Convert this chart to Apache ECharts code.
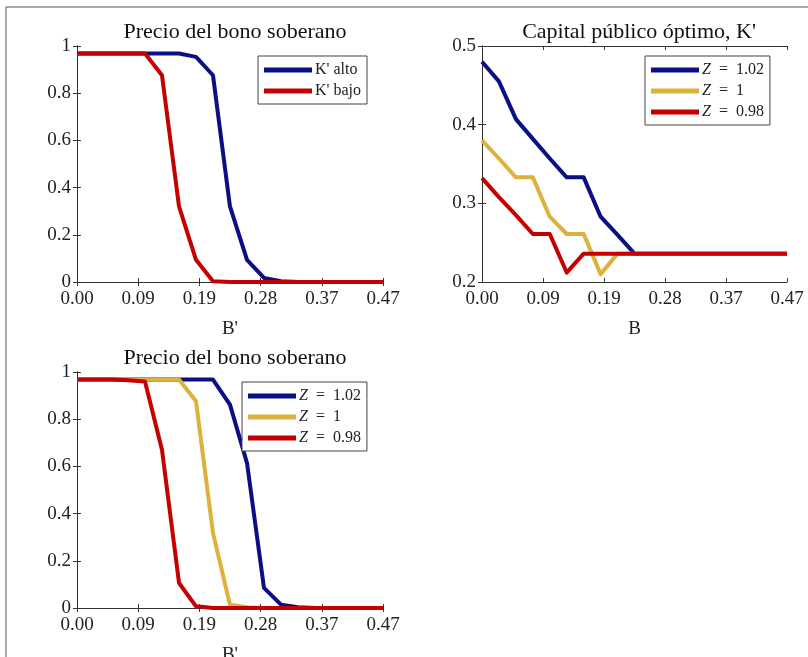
<!DOCTYPE html>
<html>
<head>
<meta charset="utf-8">
<script src="https://cdn.jsdelivr.net/npm/echarts@6/dist/echarts.min.js"></script>
<style>
  html, body { margin: 0; padding: 0; background: #fff; }
  #chart { width: 808px; height: 657px; }
</style>
</head>
<body>
<div id="chart"></div>
<script>
// grid de deuda B (19 puntos)
const bGrid = [0, 0.0259, 0.0519, 0.0778, 0.1037, 0.1296, 0.1556, 0.1815, 0.2074, 0.2333,
  0.2593, 0.2852, 0.3111, 0.3370, 0.3630, 0.3889, 0.4148, 0.4407, 0.4667];
const xTickLabels = ['0.00', '0.09', '0.19', '0.28', '0.37', '0.47'];

// panel 1: precio del bono, K' alto / bajo
const precioKAlto = [0.968, 0.968, 0.968, 0.968, 0.968, 0.968, 0.968, 0.954, 0.876, 0.32,
  0.094, 0.017, 0.003, 0, 0, 0, 0, 0, 0];
const precioKBajo = [0.968, 0.968, 0.968, 0.968, 0.968, 0.876, 0.32, 0.094, 0.003, 0,
  0, 0, 0, 0, 0, 0, 0, 0, 0];

// panel 2: capital publico optimo K'
const capZ102 = [0.48, 0.455, 0.407, 0.382, 0.357, 0.333, 0.333, 0.283, 0.26, 0.236,
  0.236, 0.236, 0.236, 0.236, 0.236, 0.236, 0.236, 0.236, 0.236];
const capZ100 = [0.38, 0.357, 0.333, 0.333, 0.283, 0.261, 0.261, 0.21, 0.236, 0.236,
  0.236, 0.236, 0.236, 0.236, 0.236, 0.236, 0.236, 0.236, 0.236];
const capZ098 = [0.332, 0.308, 0.285, 0.261, 0.261, 0.212, 0.236, 0.236, 0.236, 0.236,
  0.236, 0.236, 0.236, 0.236, 0.236, 0.236, 0.236, 0.236, 0.236];

// panel 3: precio del bono por Z
const precioZ102 = [0.968, 0.968, 0.968, 0.968, 0.968, 0.968, 0.968, 0.968, 0.968, 0.862,
  0.614, 0.085, 0.014, 0.003, 0, 0, 0, 0, 0];
const precioZ100 = [0.968, 0.968, 0.968, 0.968, 0.968, 0.968, 0.968, 0.876, 0.318, 0.014,
  0.003, 0, 0, 0, 0, 0, 0, 0, 0];
const precioZ098 = [0.968, 0.968, 0.968, 0.965, 0.96, 0.671, 0.106, 0.007, 0, 0,
  0, 0, 0, 0, 0, 0, 0, 0, 0];

const AZUL = '#0b0f86';
const AMARILLO = '#dcb13c';
const ROJO = '#c40000';
const serif = '"Liberation Serif", "DejaVu Serif", serif';
const xStep = 0.09334;

const pares = arr => bGrid.map((b, i) => [b, arr[i]]);

// outerBoundsMode none: que no achique el grid por las etiquetas
const grids = [
  { left: 77, top: 46, width: 306, height: 236, outerBoundsMode: 'none', containLabel: false },
  { left: 482, top: 46, width: 305, height: 236, outerBoundsMode: 'none', containLabel: false },
  { left: 77, top: 372, width: 306, height: 236, outerBoundsMode: 'none', containLabel: false }
];

function ejeX(gi, name, top) {
  return {
    type: 'value', gridIndex: gi, min: 0, max: 0.4667, interval: xStep,
    position: top ? 'top' : 'bottom',
    name: top ? '' : name, nameLocation: 'middle', nameGap: 38,
    nameTextStyle: { fontFamily: serif, fontSize: 19, color: '#222' },
    axisLine: { show: true, lineStyle: { color: '#333', width: 1 } },
    axisTick: { show: true, inside: true, length: 4, lineStyle: { color: '#333' } },
    axisLabel: {
      show: !top, margin: 8, fontFamily: serif, fontSize: 19, color: '#222',
      formatter: v => xTickLabels[Math.round(v / xStep)]
    },
    splitLine: { show: false }
  };
}

function ejeY(gi, min, max, right) {
  return {
    type: 'value', gridIndex: gi, min: min, max: max, interval: max - min > 0.5 ? 0.2 : 0.1,
    position: right ? 'right' : 'left',
    axisLine: { show: true, lineStyle: { color: '#333', width: 1 } },
    axisTick: { show: true, inside: true, length: 4, lineStyle: { color: '#333' } },
    axisLabel: { show: !right, margin: 6, fontFamily: serif, fontSize: 19, color: '#222' },
    splitLine: { show: false }
  };
}

function linea(name, data, color, gi) {
  return {
    name: name, type: 'line', xAxisIndex: gi * 2, yAxisIndex: gi * 2,
    data: pares(data), showSymbol: false, symbol: 'none',
    lineStyle: { color: color, width: 4, join: 'round' }, itemStyle: { color: color },
    animation: false
  };
}

function leyenda(names, left, top, rich) {
  return {
    data: names, orient: 'vertical', left: left, top: top, align: 'left',
    icon: 'rect', itemWidth: 48, itemHeight: 5, itemGap: 5,
    padding: [6, 6, 5, 6], borderColor: '#444', borderWidth: 1, borderRadius: 0,
    backgroundColor: '#fff',
    textStyle: {
      fontFamily: serif, fontSize: 16, color: '#222', padding: [0, 0, 0, -2],
      rich: { i: { fontFamily: serif, fontSize: 16, fontStyle: 'italic', color: '#222' } }
    },
    formatter: rich ? (n => n.trim().replace(' = ', '\u2002=\u2002').replace('Z', '{i|Z}')) : null,
    selectedMode: false
  };
}

const titulo = (text, left, top) => ({
  text: text, left: left, top: top, textAlign: 'center',
  textStyle: { fontFamily: serif, fontSize: 22, fontWeight: 'normal', color: '#111' }
});

const option = {
  backgroundColor: '#fff',
  animation: false,
  title: [
    titulo('Precio del bono soberano', 230, 16),
    titulo('Capital público óptimo, K\'', 634, 16),
    titulo('Precio del bono soberano', 230, 342)
  ],
  grid: grids,
  xAxis: [
    ejeX(0, "B'", false), ejeX(0, '', true),
    ejeX(1, 'B', false), ejeX(1, '', true),
    ejeX(2, "B'", false), ejeX(2, '', true)
  ],
  yAxis: [
    ejeY(0, 0, 1, false), ejeY(0, 0, 1, true),
    ejeY(1, 0.2, 0.5, false), ejeY(1, 0.2, 0.5, true),
    ejeY(2, 0, 1, false), ejeY(2, 0, 1, true)
  ],
  legend: [
    leyenda(["K' alto", "K' bajo"], 258, 56, false),
    leyenda(['Z = 1.02', 'Z = 1', 'Z = 0.98'], 645, 56, true),
    leyenda(['Z = 1.02 ', 'Z = 1 ', 'Z = 0.98 '], 242, 382, true)
  ],
  series: [
    linea("K' alto", precioKAlto, AZUL, 0),
    linea("K' bajo", precioKBajo, ROJO, 0),
    linea('Z = 1.02', capZ102, AZUL, 1),
    linea('Z = 1', capZ100, AMARILLO, 1),
    linea('Z = 0.98', capZ098, ROJO, 1),
    linea('Z = 1.02 ', precioZ102, AZUL, 2),
    linea('Z = 1 ', precioZ100, AMARILLO, 2),
    linea('Z = 0.98 ', precioZ098, ROJO, 2)
  ],
  graphic: [
    { type: 'line', shape: { x1: 6, y1: 7, x2: 808, y2: 7 }, style: { stroke: '#555', lineWidth: 1 } },
    { type: 'line', shape: { x1: 6, y1: 7, x2: 6, y2: 657 }, style: { stroke: '#555', lineWidth: 1 } }
  ]
};

const myChart = echarts.init(document.getElementById('chart'), null, { renderer: 'canvas' });
myChart.setOption(option);
</script>
</body>
</html>
